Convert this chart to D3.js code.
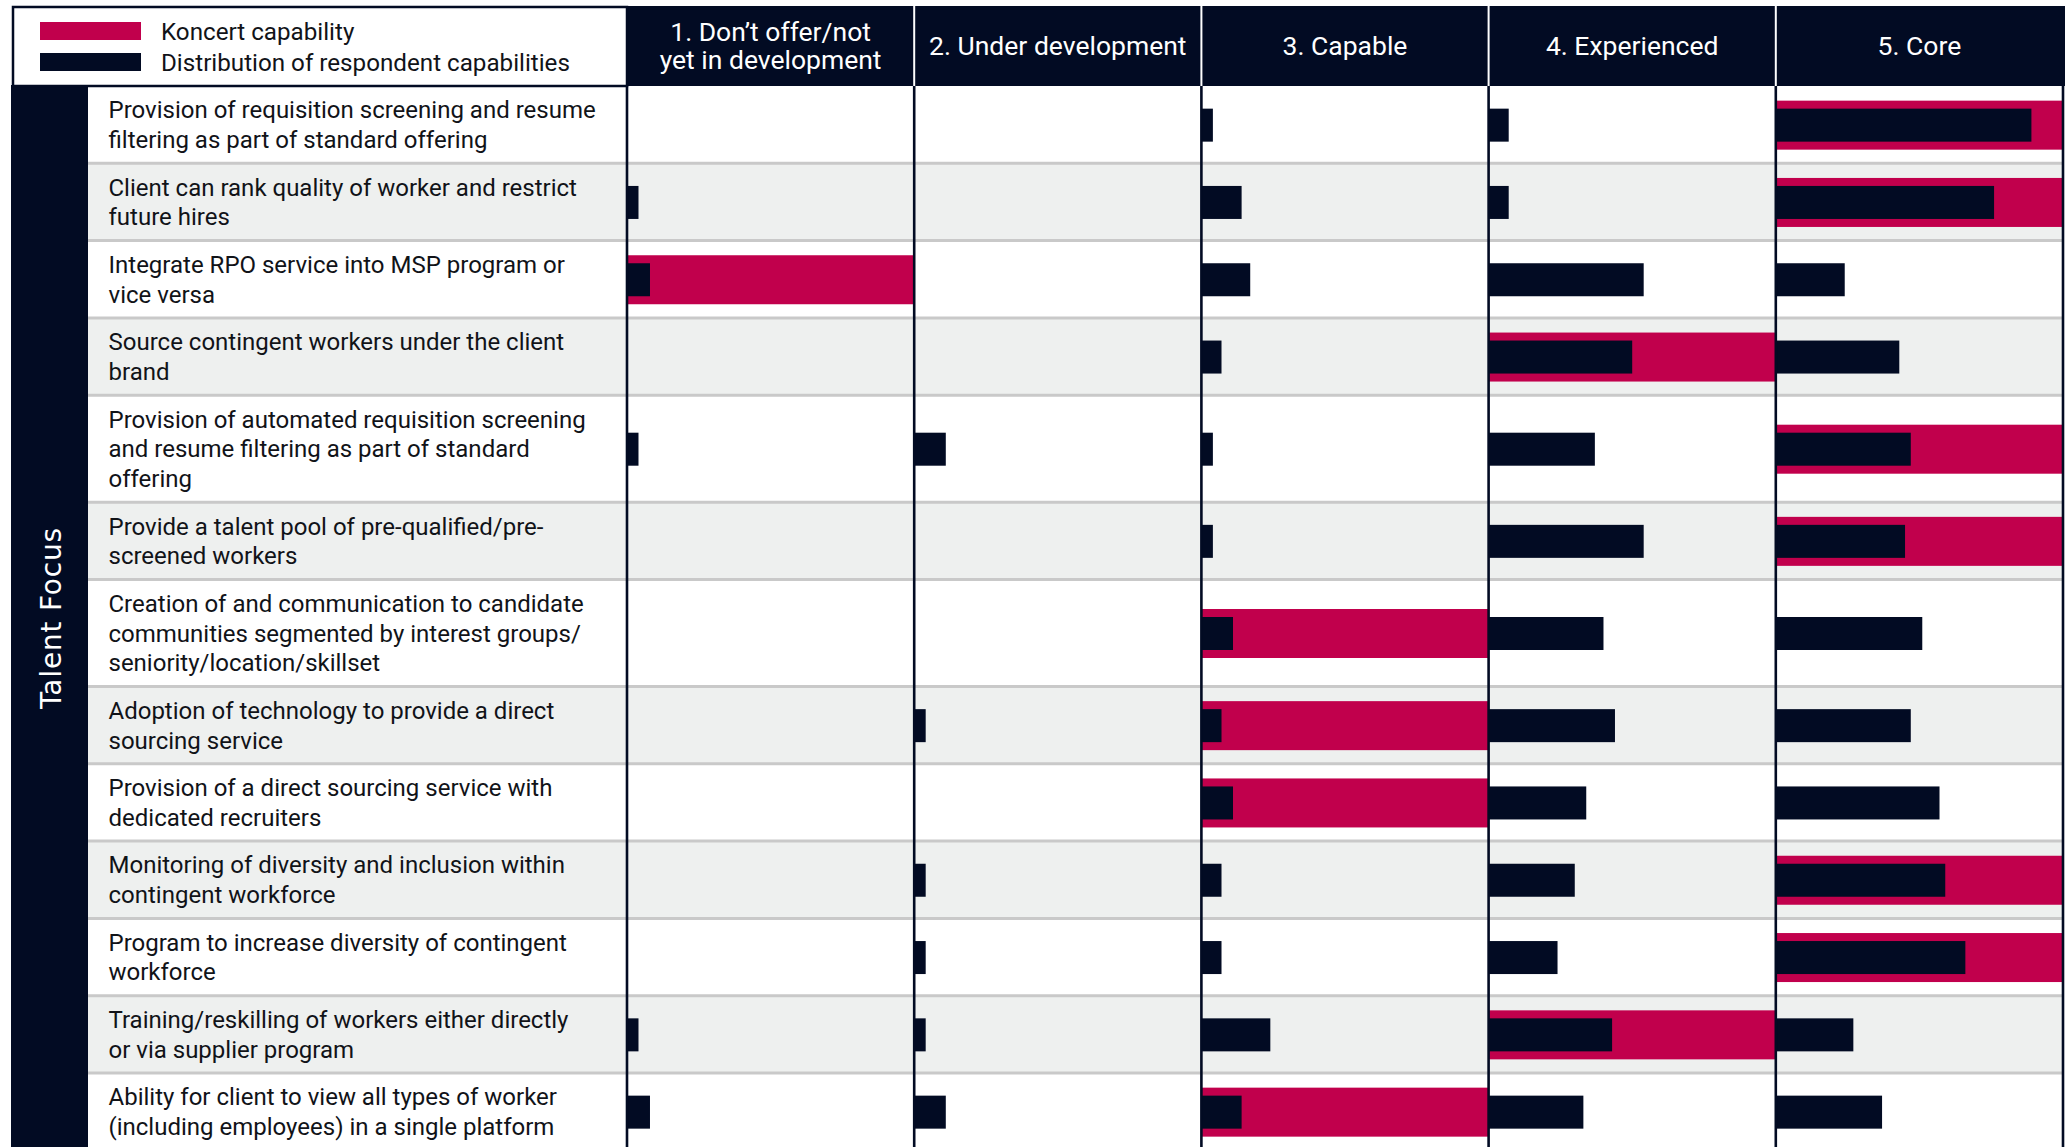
<!DOCTYPE html>
<html>
<head>
<meta charset="utf-8">
<script src="https://cdn.jsdelivr.net/npm/d3@7"></script>
<style>
  html, body { margin: 0; padding: 0; background: #ffffff; }
  svg { display: block; }
</style>
</head>
<body>
<svg id="chart" width="2071" height="1147"></svg>
<script>
// Capability maturity levels (column headers, one array entry per header line)
const levelLines = [
  ["1. Don’t offer/not", "yet in development"],
  ["2. Under development"],
  ["3. Capable"],
  ["4. Experienced"],
  ["5. Core"]
];

// Capabilities assessed in the Talent Focus section (label lines as printed)
const capabilityLines = [
  ["Provision of requisition screening and resume", "filtering as part of standard offering"],
  ["Client can rank quality of worker and restrict", "future hires"],
  ["Integrate RPO service into MSP program or", "vice versa"],
  ["Source contingent workers under the client", "brand"],
  ["Provision of automated requisition screening", "and resume filtering as part of standard", "offering"],
  ["Provide a talent pool of pre-qualified/pre-", "screened workers"],
  ["Creation of and communication to candidate", "communities segmented by interest groups/", "seniority/location/skillset"],
  ["Adoption of technology to provide a direct", "sourcing service"],
  ["Provision of a direct sourcing service with", "dedicated recruiters"],
  ["Monitoring of diversity and inclusion within", "contingent workforce"],
  ["Program to increase diversity of contingent", "workforce"],
  ["Training/reskilling of workers either directly", "or via supplier program"],
  ["Ability for client to view all types of worker", "(including employees) in a single platform"]
];

// Share of respondents (%) at each level, levels 1..5, per capability
const respondentShares = [
  [0, 0, 4, 7, 89],
  [4, 0, 14, 7, 76],
  [8, 0, 17, 54, 24],
  [0, 0, 7, 50, 43],
  [4, 11, 4, 37, 47],
  [0, 0, 4, 54, 45],
  [0, 0, 11, 40, 51],
  [0, 4, 7, 44, 47],
  [0, 0, 11, 34, 57],
  [0, 4, 7, 30, 59],
  [0, 4, 7, 24, 66],
  [4, 4, 24, 43, 27],
  [8, 11, 14, 33, 37]
];

// Koncert's own level (1..5) per capability
const koncertLevel = [5, 5, 1, 4, 5, 5, 3, 3, 3, 5, 5, 4, 3];

const legendLabels = ["Koncert capability", "Distribution of respondent capabilities"];
const sectionLabel = "Talent Focus";

// ---- styling ----
const W = 2071, H = 1147;
const navy = "#020b23";
const crimson = "#c1004c";
const stripe = "#eef0ef";
const rule = "#c9c9c9";
const ink = "#111318";
const labelFont = "Roboto, 'Noto Sans', sans-serif";

const svg = d3.select("#chart");

// ---- scales ----
const x = d3.scaleBand()
  .domain(levelLines.map((d, i) => i + 1))
  .range([627, 2063])
  .paddingInner(0)
  .paddingOuter(0);

const barW = d3.scaleLinear().domain([0, 100]).range([0, x.bandwidth()]);

// Row layout: height grows with the number of label lines
const lineH = 29.7, rowPad = 17.9, bodyTop = 86;
let acc = bodyTop;
const rows = capabilityLines.map((lines, i) => {
  const h = lines.length * lineH + rowPad;
  const r = { i, lines, top: acc, h, mid: acc + h / 2, shares: respondentShares[i], level: koncertLevel[i] };
  acc += h;
  return r;
});

const tableLeft = 88, tableRight = x.range()[1];

// ---- row backgrounds ----
svg.append("g").selectAll("rect")
  .data(rows)
  .join("rect")
  .attr("x", tableLeft)
  .attr("y", d => d.top)
  .attr("width", tableRight - tableLeft)
  .attr("height", d => d.h)
  .attr("fill", d => d.i % 2 ? stripe : "#ffffff");

// ---- row separators ----
svg.append("g").selectAll("line")
  .data(rows)
  .join("line")
  .attr("x1", tableLeft)
  .attr("x2", tableRight)
  .attr("y1", d => d.top + d.h)
  .attr("y2", d => d.top + d.h)
  .attr("stroke", rule)
  .attr("stroke-width", 3);

// ---- Koncert capability bars (full cell width) ----
const redH = 49, darkH = 33;
svg.append("g").selectAll("rect")
  .data(rows)
  .join("rect")
  .attr("x", d => x(d.level))
  .attr("y", d => d.mid - redH / 2 + 0.5)
  .attr("width", x.bandwidth())
  .attr("height", redH)
  .attr("fill", crimson);

// ---- respondent distribution bars ----
const cells = rows.flatMap(r => r.shares.map((v, j) => ({ row: r, level: j + 1, v })))
  .filter(c => c.v > 0);
svg.append("g").selectAll("rect")
  .data(cells)
  .join("rect")
  .attr("x", d => x(d.level))
  .attr("y", d => d.row.mid - darkH / 2 + 0.5)
  .attr("width", d => barW(d.v))
  .attr("height", darkH)
  .attr("fill", navy);

// ---- left section band ----
svg.append("rect")
  .attr("x", 11).attr("y", bodyTop - 1)
  .attr("width", tableLeft - 11).attr("height", H - bodyTop + 1)
  .attr("fill", navy);

svg.append("text")
  .attr("transform", `translate(61, 618) rotate(-90)`)
  .attr("text-anchor", "middle")
  .attr("font-family", "'DejaVu Sans', Verdana, sans-serif")
  .attr("font-size", 28)
  .attr("letter-spacing", 0.8)
  .attr("fill", "#ffffff")
  .text(sectionLabel);

// ---- column rules in body ----
const bounds = x.domain().map(d => x(d)).concat([tableRight]);
svg.append("g").selectAll("line")
  .data(bounds)
  .join("line")
  .attr("x1", d => d).attr("x2", d => d)
  .attr("y1", bodyTop).attr("y2", H)
  .attr("stroke", navy)
  .attr("stroke-width", 2.6);

// ---- capability labels ----
const capH = 0.711 * 24;
const labelG = svg.append("g")
  .attr("font-family", labelFont)
  .attr("font-size", 24)
  .attr("fill", ink);
rows.forEach(r => {
  const n = r.lines.length;
  r.lines.forEach((ln, k) => {
    labelG.append("text")
      .attr("x", 108.5)
      .attr("y", r.mid + (k - (n - 1) / 2) * lineH + capH / 2)
      .text(ln);
  });
});

// ---- header ----
const headTop = 6, headBottom = bodyTop;
svg.append("rect")
  .attr("x", x.range()[0]).attr("y", headTop)
  .attr("width", tableRight + 2 - x.range()[0]).attr("height", headBottom - headTop)
  .attr("fill", navy);

svg.append("g").selectAll("line")
  .data(bounds.slice(1, -1))
  .join("line")
  .attr("x1", d => d).attr("x2", d => d)
  .attr("y1", headTop).attr("y2", headBottom)
  .attr("stroke", "#ffffff")
  .attr("stroke-width", 2);

const headFs = 26.5, headLineH = 28, headCap = 0.711 * headFs;
const headMid = (headTop + headBottom) / 2;
const headG = svg.append("g")
  .attr("font-family", labelFont)
  .attr("font-size", headFs)
  .attr("fill", "#ffffff")
  .attr("text-anchor", "middle");
levelLines.forEach((lines, i) => {
  const n = lines.length;
  lines.forEach((ln, k) => {
    headG.append("text")
      .attr("x", x(i + 1) + x.bandwidth() / 2)
      .attr("y", headMid + (k - (n - 1) / 2) * headLineH + headCap / 2)
      .text(ln);
  });
});

// ---- legend ----
const legend = svg.append("g");
legend.append("rect")
  .attr("x", 13).attr("y", 7)
  .attr("width", x.range()[0] - 13).attr("height", headBottom - 7)
  .attr("fill", "#ffffff")
  .attr("stroke", navy)
  .attr("stroke-width", 2.5);

const legendColors = [crimson, navy];
const legendMid = [31, 62];
legendLabels.forEach((lab, i) => {
  legend.append("rect")
    .attr("x", 40).attr("y", legendMid[i] - 9)
    .attr("width", 101).attr("height", 18)
    .attr("fill", legendColors[i]);
  legend.append("text")
    .attr("x", 161)
    .attr("y", legendMid[i] + capH / 2)
    .attr("font-family", labelFont)
    .attr("font-size", 24.2)
    .attr("fill", ink)
    .text(lab);
});
</script>
</body>
</html>
